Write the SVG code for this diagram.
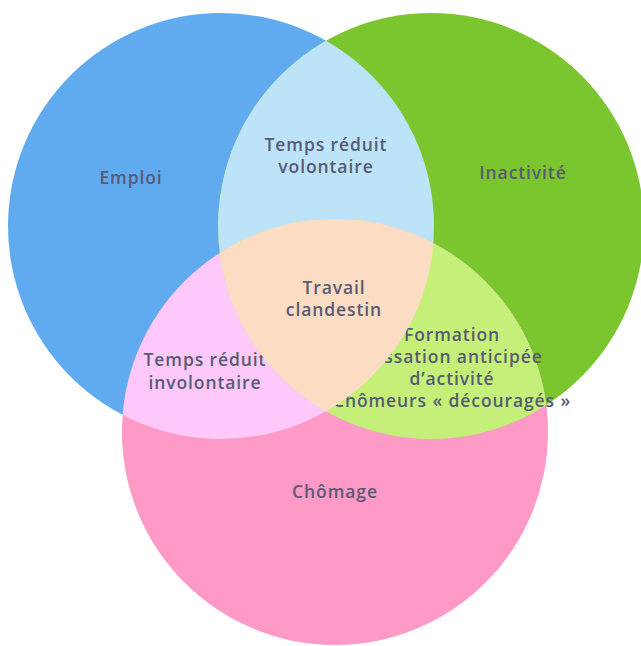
<svg xmlns="http://www.w3.org/2000/svg" width="641" height="646" viewBox="0 0 641 646">
<style>
text{font-family:"Open Sans","Liberation Sans",sans-serif;font-size:17.5px;font-weight:600;letter-spacing:0.9px;fill:#575b74;text-anchor:middle}
</style>
<defs>
<clipPath id="cB"><circle cx="221" cy="226" r="213"/></clipPath>
<clipPath id="cG"><circle cx="431" cy="226" r="213"/></clipPath>
</defs>
<rect width="641" height="646" fill="#ffffff"/>
<g id="emploi">
<circle cx="221" cy="226" r="213" fill="#60aaf0"/>
<text x="131" y="184">Emploi</text>
</g>
<g id="inactivite">
<circle cx="431" cy="226" r="213" fill="#7bc52f"/>
<text x="523" y="179">Inactivité</text>
</g>
<g id="chomage">
<circle cx="335" cy="432" r="213" fill="#ff99c6"/>
<text x="335" y="498">Chômage</text>
</g>
<g id="temps-reduit-volontaire">
<circle cx="431" cy="226" r="213" fill="#bde3f8" clip-path="url(#cB)"/>
<text x="326" y="151">Temps réduit</text>
<text x="326" y="173">volontaire</text>
</g>
<g id="temps-reduit-involontaire">
<circle cx="335" cy="432" r="213" fill="#ffc8fa" clip-path="url(#cB)"/>
<text x="205" y="366">Temps réduit</text>
<text x="205" y="389">involontaire</text>
</g>
<g id="inactivite-chomage">
<circle cx="335" cy="432" r="213" fill="#c4ef78" clip-path="url(#cG)"/>
<text x="452" y="341">Formation</text>
<text x="452" y="363">Cessation anticipée</text>
<text x="452" y="385">d’activité</text>
<text x="452" y="407">Chômeurs « découragés »</text>
</g>
<g id="travail-clandestin">
<g clip-path="url(#cB)"><circle cx="335" cy="432" r="213" fill="#fddcc4" clip-path="url(#cG)"/></g>
<text x="334" y="294">Travail</text>
<text x="334" y="316">clandestin</text>
</g>
<g id="connectors"/>
</svg>
